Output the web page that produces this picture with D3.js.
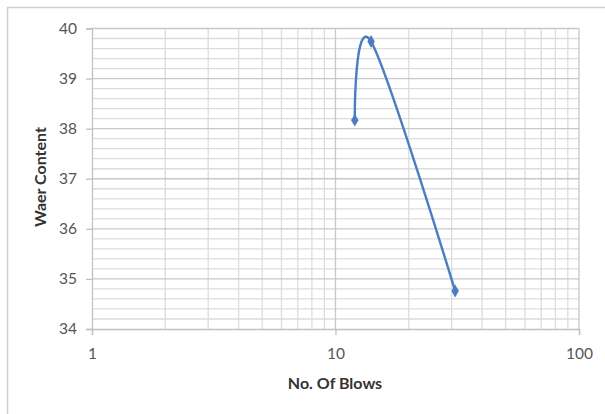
<!DOCTYPE html>
<html><head><meta charset="utf-8">
<script src="https://cdn.jsdelivr.net/npm/d3@7"></script>
<style>body{margin:0;background:#fff;} svg{display:block;}</style>
</head><body>
<script>
const blows = [12, 14, 31];
const water = [38.17, 39.74, 34.76];
const yTicks = [34, 35, 36, 37, 38, 39, 40];
const xTicks = [1, 10, 100];
const xTitle = "No. Of Blows";
const yTitle = "Waer Content";

const W = 605, H = 414;
const svg = d3.select("body").append("svg").attr("width", W).attr("height", H);
svg.append("rect").attr("width", W).attr("height", H).attr("fill", "#fff");
// outer chart border
svg.append("path").attr("d", `M7.5,${H} V7.5 H${W}`).attr("fill", "none").attr("stroke", "#cfcfcf").attr("stroke-width", 1.5);

const x = d3.scaleLog().domain([1, 100]).range([92, 579]);
const y = d3.scaleLinear().domain([34, 40]).range([329, 28.5]);

const g = svg.append("g");
// minor vertical gridlines
const xMinor = [];
[1, 10].forEach(d => { for (let k = 2; k <= 9; k++) xMinor.push(d * k); });
g.selectAll(".vmin").data(xMinor).join("line")
  .attr("x1", d => x(d)).attr("x2", d => x(d)).attr("y1", y(34)).attr("y2", y(40))
  .attr("stroke", "#dcdcdc").attr("stroke-width", 1.3);
// minor horizontal gridlines
const yMinor = d3.range(34, 40.001, 0.2).filter(v => Math.abs(v - Math.round(v)) > 1e-6);
g.selectAll(".hmin").data(yMinor).join("line")
  .attr("x1", x(1)).attr("x2", x(100)).attr("y1", d => y(d)).attr("y2", d => y(d))
  .attr("stroke", "#dcdcdc").attr("stroke-width", 1.3);
// major gridlines
g.selectAll(".vmaj").data(xTicks.slice(1)).join("line")
  .attr("x1", d => x(d)).attr("x2", d => x(d)).attr("y1", y(34)).attr("y2", y(40))
  .attr("stroke", "#c8c8c8").attr("stroke-width", 1.3);
g.selectAll(".hmaj").data(yTicks.slice(1)).join("line")
  .attr("x1", x(1)).attr("x2", x(100)).attr("y1", d => y(d)).attr("y2", d => y(d))
  .attr("stroke", "#c8c8c8").attr("stroke-width", 1.3);

// axes
const xAxis = svg.append("g").attr("transform", `translate(0,${y(34)})`)
  .call(d3.axisBottom(x).tickValues(xTicks).tickFormat(d3.format("d")).tickSize(6).tickPadding(13));
const yAxis = svg.append("g").attr("transform", `translate(${x(1)},0)`)
  .call(d3.axisLeft(y).tickValues(yTicks).tickFormat(d3.format("d")).tickSize(6).tickPadding(9));
[xAxis, yAxis].forEach(a => {
  a.select(".domain").attr("stroke", "#c0c0c0").attr("stroke-width", 1.3);
  a.selectAll(".tick line").attr("stroke", "#c0c0c0").attr("stroke-width", 1.3);
  a.selectAll("text").attr("fill", "#555").attr("font-family", "Lato, 'Open Sans', sans-serif").attr("font-size", 15.5);
});

// titles
svg.append("text").attr("x", 335).attr("y", 389).attr("text-anchor", "middle")
  .attr("font-family", "Lato, sans-serif").attr("font-weight", "bold").attr("font-size", 16).attr("fill", "#333").text(xTitle);
svg.append("text").attr("transform", "translate(46,177) rotate(-90)").attr("text-anchor", "middle")
  .attr("font-family", "Lato, sans-serif").attr("font-weight", "bold").attr("font-size", 16).attr("fill", "#333").text(yTitle);

// series
const pts = blows.map((b, i) => [b, water[i]]);
const line = d3.line().x(d => x(d[0])).y(d => y(d[1])).curve(d3.curveCardinal.tension(0));
svg.append("path").datum(pts).attr("d", line).attr("fill", "none").attr("stroke", "#4a7ebf").attr("stroke-width", 2.4);
svg.selectAll(".mk").data(pts).join("path")
  .attr("transform", d => `translate(${x(d[0])},${y(d[1])})`)
  .attr("d", d3.symbol(d3.symbolDiamond, 48))
  .attr("fill", "#4a7ebf");
</script>
</body></html>
